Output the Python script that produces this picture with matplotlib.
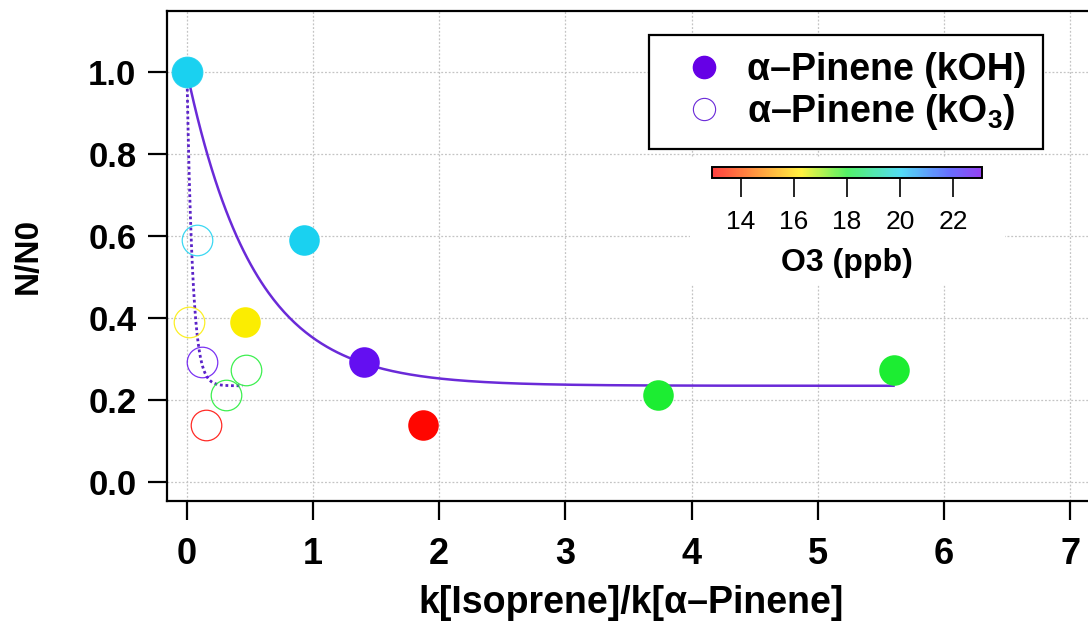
import numpy as np
import matplotlib
matplotlib.use("Agg")
import matplotlib.pyplot as plt
from matplotlib.colors import LinearSegmentedColormap, Normalize
from matplotlib.cm import ScalarMappable
from matplotlib.ticker import FormatStrFormatter
from matplotlib.lines import Line2D

plt.rcParams['font.family'] = ['Liberation Sans', 'DejaVu Sans']
plt.rcParams['mathtext.fontset'] = 'custom'
plt.rcParams['mathtext.rm'] = 'Liberation Sans'
plt.rcParams['mathtext.bf'] = 'Liberation Sans:bold'

# relative decay of alpha-pinene vs. isoprene exposure, coloured by O3
ratio_oh = [0.0, 0.93, 0.46, 1.40, 1.87, 3.73, 5.60]
ratio_o3 = [0.0, 0.08, 0.02, 0.12, 0.15, 0.31, 0.47]
n_over_n0 = [1.0, 0.59, 0.39, 0.293, 0.139, 0.212, 0.273]
o3_ppb = [20.0, 20.0, 16.3, 22.8, 13.0, 18.0, 18.0]

# exponential fits  y = plateau + amp * exp(-rate * x)
fit_plateau = 0.235
fit_amp = 0.765
fit_rate_oh = 1.88
fit_rate_o3 = 22.4
fit_xmax_oh = 5.60
fit_xmax_o3 = 0.44

o3_min, o3_max = 12.9, 23.1
cbar_ticks = [14, 16, 18, 20, 22]

cmap = LinearSegmentedColormap.from_list(
    "igor_rainbow",
    [(0.0, (1.0, 0.0, 0.0)), (0.33, (1.0, 0.93, 0.0)), (0.5, (0.1, 0.93, 0.2)),
     (0.70, (0.1, 0.82, 0.95)), (0.88, (0.2, 0.25, 1.0)), (1.0, (0.45, 0.0, 0.93))])
norm = Normalize(o3_min, o3_max)

W, H = 1088, 623
fig = plt.figure(figsize=(W / 100, H / 100), dpi=100)
ax = fig.add_axes([167 / W, (H - 501) / H, (1128 - 167) / W, (501 - 11) / H])

ax.set_xlim(-0.158, 7.458)
ax.set_ylim(-0.046, 1.149)
ax.set_xticks(range(0, 8))
ax.set_yticks(np.arange(0, 1.01, 0.2))
ax.yaxis.set_major_formatter(FormatStrFormatter('%.1f'))
ax.grid(True, color='#c4c4c4', linestyle=(0, (1.5, 1.5)), linewidth=0.9)
for s in ax.spines.values():
    s.set_linewidth(1.6)
ax.tick_params(direction='out', length=14, width=1.6, labelsize=25, pad=8)
ax.tick_params(axis='x', labelsize=26, pad=12)
for lab in ax.get_xticklabels() + ax.get_yticklabels():
    lab.set_fontweight('bold')

ax.set_xlabel('k[Isoprene]/k[α–Pinene]', fontsize=27, fontweight='bold')
ax.set_ylabel('N/N0', fontsize=24, fontweight='bold')
ax.xaxis.set_label_coords(0.483, -0.172)
ax.yaxis.set_label_coords(-0.128, 0.5)

# fit curves
xf = np.linspace(0, fit_xmax_oh, 400)
ax.plot(xf, fit_plateau + fit_amp * np.exp(-fit_rate_oh * xf), color='#6a2ad8', lw=1.8, zorder=2)
xf = np.linspace(0, fit_xmax_o3, 200)
ax.plot(xf, fit_plateau + fit_amp * np.exp(-fit_rate_o3 * xf), color='#5a22c8', lw=2.0,
        linestyle=(0, (1, 1)), zorder=2)

# open circles (kO3), filled circles (kOH)
for x, y, c in zip(ratio_o3, n_over_n0, o3_ppb):
    ax.plot(x, y, 'o', ms=22, mfc='none', mec=cmap(norm(c)), mew=0.9, alpha=0.85, zorder=3)
for x, y, c in zip(ratio_oh, n_over_n0, o3_ppb):
    ax.plot(x, y, 'o', ms=22, color=cmap(norm(c)), mec='none', zorder=4)

# blank area behind the colour scale
ax.add_patch(plt.Rectangle((690, H - 285), 315, 127, transform=None, facecolor='white',
                           edgecolor='none', zorder=1.8))

handles = [Line2D([], [], marker='o', ls='none', ms=16, color='#6600e6'),
           Line2D([], [], marker='o', ls='none', ms=16, mfc='white', mec='#6a2ad8', mew=0.8)]
leg = ax.legend(handles, ['α–Pinene (kOH)', 'α–Pinene (kO$_{\\mathbf{3}}$)'],
                loc='upper right', bbox_to_anchor=(0.9115, 0.951), borderaxespad=0,
                prop={'size': 27, 'weight': 'bold'}, fancybox=False, framealpha=1,
                edgecolor='black', handlelength=2.0, handletextpad=0.15,
                borderpad=0.45, labelspacing=0.12)
leg.get_frame().set_linewidth(1.6)
leg.set_zorder(5)

cax = fig.add_axes([712 / W, (H - 178) / H, 270 / W, 11 / H])
cb = fig.colorbar(ScalarMappable(norm=norm, cmap=cmap), cax=cax, orientation='horizontal',
                  ticks=cbar_ticks, alpha=0.75)
cb.outline.set_linewidth(1.4)
cax.tick_params(direction='out', length=14, width=1.2, labelsize=19, pad=9)
cb.set_label('O3 (ppb)', fontsize=23, fontweight='bold', labelpad=10)

fig.savefig('out.png', dpi=100)
